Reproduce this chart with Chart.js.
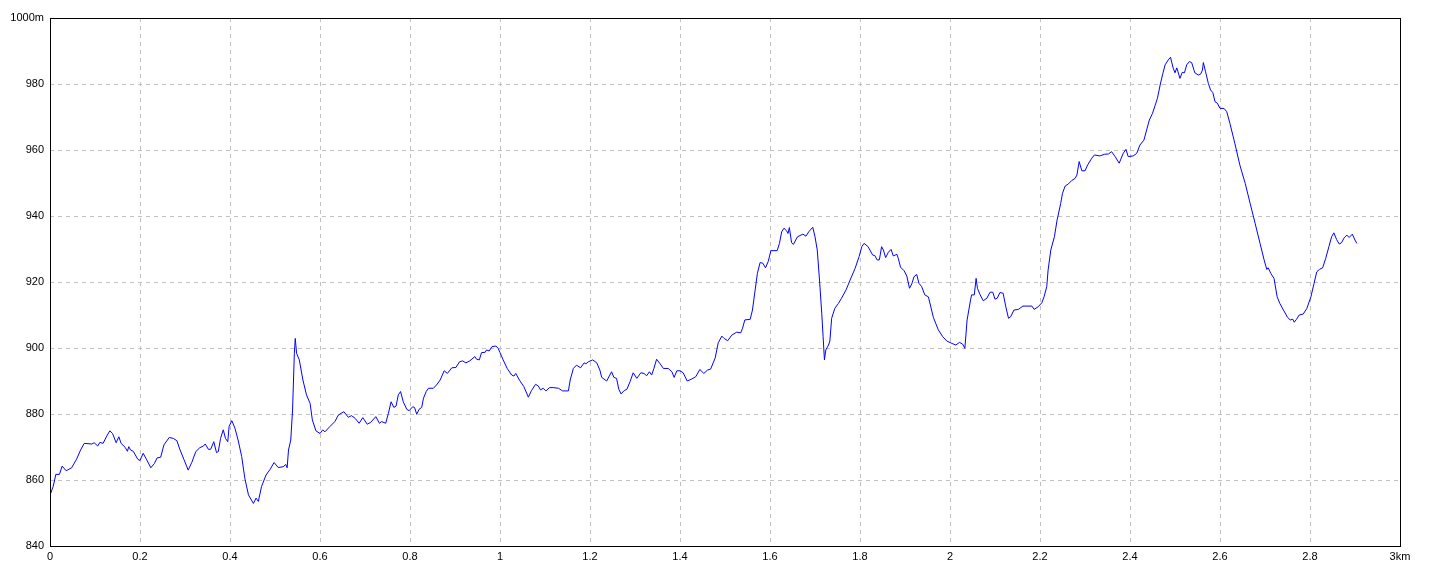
<!DOCTYPE html>
<html>
<head>
<meta charset="utf-8">
<script src="https://cdn.jsdelivr.net/npm/chart.js@4/dist/chart.umd.min.js"></script>
<style>
html,body{margin:0;padding:0;background:#fff;}
canvas{display:block;}
</style>
</head>
<body>
<canvas id="c" width="1440" height="576"></canvas>
<script>
// distance along the route (km)
const distanceKm = [
0.000,0.002,0.007,0.013,0.021,0.027,0.036,0.048,0.059,0.068,0.076,0.093,0.098,0.106,0.111,0.118,0.126,0.133,0.139,0.147,
0.153,0.158,0.167,0.172,0.175,0.179,0.185,0.195,0.200,0.207,0.215,0.224,0.232,0.238,0.246,0.253,0.265,0.274,0.282,0.289,
0.298,0.307,0.315,0.324,0.333,0.341,0.345,0.352,0.357,0.364,0.370,0.374,0.379,0.385,0.390,0.395,0.398,0.404,0.411,0.418,
0.426,0.433,0.441,0.452,0.458,0.463,0.470,0.480,0.489,0.498,0.507,0.518,0.524,0.527,0.530,0.535,0.539,0.543,0.545,0.548,
0.554,0.562,0.570,0.578,0.583,0.591,0.600,0.606,0.611,0.622,0.633,0.641,0.653,0.663,0.670,0.678,0.687,0.695,0.705,0.713,
0.724,0.732,0.737,0.746,0.752,0.758,0.764,0.769,0.774,0.779,0.785,0.793,0.798,0.806,0.810,0.815,0.820,0.826,0.830,0.836,
0.841,0.852,0.859,0.867,0.876,0.883,0.893,0.902,0.910,0.917,0.924,0.933,0.944,0.948,0.954,0.959,0.967,0.970,0.976,0.982,
0.991,0.996,1.000,1.007,1.016,1.026,1.031,1.035,1.044,1.053,1.063,1.070,1.079,1.085,1.090,1.096,1.102,1.110,1.118,1.130,
1.139,1.152,1.156,1.163,1.170,1.179,1.187,1.191,1.196,1.206,1.215,1.222,1.226,1.237,1.244,1.248,1.253,1.259,1.264,1.269,
1.276,1.282,1.289,1.296,1.304,1.313,1.320,1.326,1.332,1.337,1.342,1.348,1.356,1.363,1.374,1.382,1.387,1.393,1.400,1.407,
1.416,1.426,1.435,1.444,1.453,1.461,1.468,1.478,1.485,1.493,1.498,1.506,1.515,1.526,1.535,1.539,1.544,1.556,1.561,1.567,
1.572,1.578,1.584,1.590,1.596,1.602,1.616,1.621,1.626,1.631,1.637,1.640,1.643,1.648,1.652,1.661,1.673,1.680,1.686,1.695,
1.700,1.705,1.710,1.715,1.718,1.721,1.724,1.730,1.733,1.737,1.744,1.752,1.759,1.769,1.778,1.789,1.798,1.804,1.809,1.818,
1.828,1.833,1.838,1.843,1.848,1.852,1.857,1.863,1.869,1.874,1.882,1.885,1.890,1.898,1.904,1.910,1.915,1.920,1.926,1.931,
1.937,1.944,1.952,1.963,1.974,1.984,1.993,2.004,2.013,2.021,2.028,2.033,2.038,2.046,2.048,2.054,2.058,2.061,2.067,2.074,
2.082,2.089,2.095,2.100,2.105,2.111,2.118,2.124,2.130,2.135,2.142,2.152,2.162,2.182,2.187,2.196,2.204,2.209,2.215,2.218,
2.224,2.232,2.238,2.246,2.250,2.256,2.263,2.270,2.278,2.282,2.287,2.293,2.300,2.306,2.315,2.321,2.333,2.343,2.352,2.359,
2.367,2.376,2.385,2.391,2.396,2.407,2.415,2.422,2.431,2.437,2.443,2.450,2.456,2.461,2.467,2.473,2.478,2.485,2.490,2.496,
2.500,2.504,2.511,2.516,2.521,2.526,2.532,2.537,2.544,2.552,2.557,2.561,2.563,2.568,2.574,2.579,2.584,2.589,2.594,2.600,
2.609,2.615,2.622,2.633,2.644,2.656,2.667,2.678,2.689,2.698,2.704,2.707,2.713,2.720,2.727,2.733,2.741,2.750,2.756,2.762,
2.765,2.770,2.776,2.785,2.793,2.802,2.809,2.815,2.821,2.828,2.835,2.842,2.848,2.853,2.859,2.865,2.870,2.876,2.882,2.887,
2.894,2.900,2.904
];
// elevation (m)
const elevationM = [
856.5,856.2,858.0,861.7,861.7,864.2,862.8,863.7,866.3,869.1,871.1,870.9,871.3,870.3,871.4,871.1,873.3,874.9,874.1,871.3,
873.1,871.1,869.9,868.7,870.1,869.1,868.7,866.3,865.9,868.1,866.1,863.7,865.0,866.7,866.9,870.6,872.9,872.6,871.9,869.1,
866.1,863.0,865.3,868.6,869.8,870.3,870.9,869.3,869.3,871.6,868.3,868.6,872.6,875.2,872.6,871.6,876.2,878.0,875.7,872.1,
867.1,860.5,855.5,852.9,854.5,853.5,858.0,861.5,863.2,865.3,863.8,864.0,864.7,863.7,869.1,872.1,881.2,898.4,902.9,898.4,
896.4,890.3,885.8,883.2,878.2,874.9,874.1,875.2,874.6,876.2,877.7,879.7,880.7,879.0,879.5,878.7,877.2,878.9,876.9,877.5,
879.2,877.2,877.7,877.2,880.2,883.7,882.0,882.4,885.8,886.8,883.7,881.4,881.0,882.2,882.0,879.9,881.4,882.0,884.8,886.8,
887.8,887.8,888.8,890.3,893.1,892.3,894.0,894.1,895.8,896.1,895.5,896.1,897.4,896.6,896.4,898.6,898.7,899.4,899.1,900.4,
900.6,899.9,898.6,896.4,893.8,891.8,891.5,892.3,890.1,888.3,885.1,887.1,889.0,888.5,887.3,887.8,887.0,888.0,888.0,887.8,
887.0,887.0,890.3,893.8,894.8,894.0,895.5,895.2,895.8,896.4,895.5,893.3,891.1,890.0,891.8,892.8,891.1,890.8,887.5,886.1,
887.1,887.5,889.8,892.5,890.8,892.5,892.3,891.6,892.8,891.8,893.8,896.6,895.2,893.8,893.8,892.8,891.1,893.1,893.1,892.5,
890.0,890.6,891.3,893.5,892.3,893.3,893.6,896.9,901.6,903.6,902.9,902.2,903.9,904.8,904.6,906.0,908.5,908.7,911.5,917.6,
922.6,925.9,925.7,924.3,926.2,929.5,929.5,931.7,935.2,936.3,935.5,934.7,936.5,931.9,931.4,933.7,934.5,933.9,935.2,936.6,
933.7,929.7,920.6,910.5,903.4,896.4,899.4,900.9,902.1,909.0,912.0,913.5,915.1,917.6,920.6,924.1,927.7,930.7,931.7,930.7,
928.2,928.0,926.7,926.7,930.7,929.7,927.4,929.0,929.9,927.9,928.4,927.2,924.5,923.4,921.8,918.1,919.4,921.6,922.3,919.6,
918.6,916.1,915.5,909.3,905.5,903.4,902.1,901.4,900.9,901.7,901.2,899.9,908.5,914.8,916.1,916.1,921.1,918.1,916.1,914.3,
915.1,916.9,916.9,914.8,915.1,916.8,916.6,912.5,909.0,909.5,911.5,911.7,912.7,912.7,911.7,912.5,913.7,915.5,918.6,923.6,
929.7,933.7,938.8,943.8,946.9,949.1,949.7,950.7,951.4,952.4,956.5,953.7,953.7,955.5,957.5,958.5,958.2,958.7,958.8,959.5,
958.0,956.0,959.0,960.2,958.0,958.2,959.0,961.5,963.0,966.1,969.1,971.1,973.6,975.7,979.7,983.2,985.8,987.3,988.1,984.8,
983.4,984.9,981.7,983.5,983.4,985.8,986.8,986.5,983.4,982.7,983.0,984.2,986.5,983.7,980.2,978.2,977.4,974.6,974.2,972.6,
972.6,971.6,968.1,962.0,955.5,949.9,943.8,937.8,931.7,926.7,923.8,924.3,922.6,921.1,915.5,913.5,911.5,909.3,908.5,908.7,
907.8,908.7,910.0,910.3,912.0,915.5,919.6,923.1,923.8,924.3,927.2,930.7,933.7,934.9,932.9,931.5,931.9,933.4,934.2,933.5,
934.5,932.7,931.7
];
// axis tick labels
const xTickLabels = ['0','0.2','0.4','0.6','0.8','1','1.2','1.4','1.6','1.8','2','2.2','2.4','2.6','2.8','3km'];
const yTickLabels = ['840','860','880','900','920','940','960','980','1000m'];

const points = distanceKm.map((d, i) => ({x: d, y: elevationM[i]}));

const frame = {
  id: 'frame',
  afterDraw(chart) {
    const {ctx, chartArea: a} = chart;
    ctx.save();
    ctx.setLineDash([]);
    ctx.strokeStyle = '#000';
    ctx.lineWidth = 1;
    ctx.strokeRect(Math.round(a.left) + 0.5, Math.round(a.top) + 0.5,
                   Math.round(a.right - a.left), Math.round(a.bottom - a.top));
    ctx.restore();
  }
};

const font = {family: '"Liberation Sans", Arial, sans-serif', size: 11};

new Chart(document.getElementById('c'), {
  type: 'line',
  data: {
    datasets: [{
      data: points,
      borderColor: '#0000ff',
      borderWidth: 1,
      pointRadius: 0,
      tension: 0,
      fill: false
    }]
  },
  options: {
    responsive: false,
    animation: false,
    devicePixelRatio: 1,
    layout: {padding: {top: 18, right: 40, left: 0, bottom: 0}},
    plugins: {legend: {display: false}, tooltip: {enabled: false}},
    scales: {
      x: {
        type: 'linear',
        min: 0, max: 3,
        afterBuildTicks(scale) {
          scale.ticks = xTickLabels.map((_, i) => ({value: i * 0.2}));
        },
        afterFit(scale) { scale.height = 30; },
        grid: {color: '#c0c0c0', lineWidth: 1, drawTicks: false},
        border: {display: false, dash: [4, 4]},
        ticks: {
          color: '#000', font, padding: 4, maxRotation: 0, autoSkip: false,
          callback: (v, i) => xTickLabels[i]
        }
      },
      y: {
        type: 'linear',
        min: 840, max: 1000,
        afterBuildTicks(scale) {
          scale.ticks = yTickLabels.map((_, i) => ({value: 840 + i * 20}));
        },
        afterFit(scale) { scale.width = 50; },
        grid: {color: '#c0c0c0', lineWidth: 1, drawTicks: false},
        border: {display: false, dash: [4, 4]},
        ticks: {
          color: '#000', font, padding: 6, autoSkip: false,
          callback: (v, i) => yTickLabels[i]
        }
      }
    }
  },
  plugins: [frame]
});
</script>
</body>
</html>
